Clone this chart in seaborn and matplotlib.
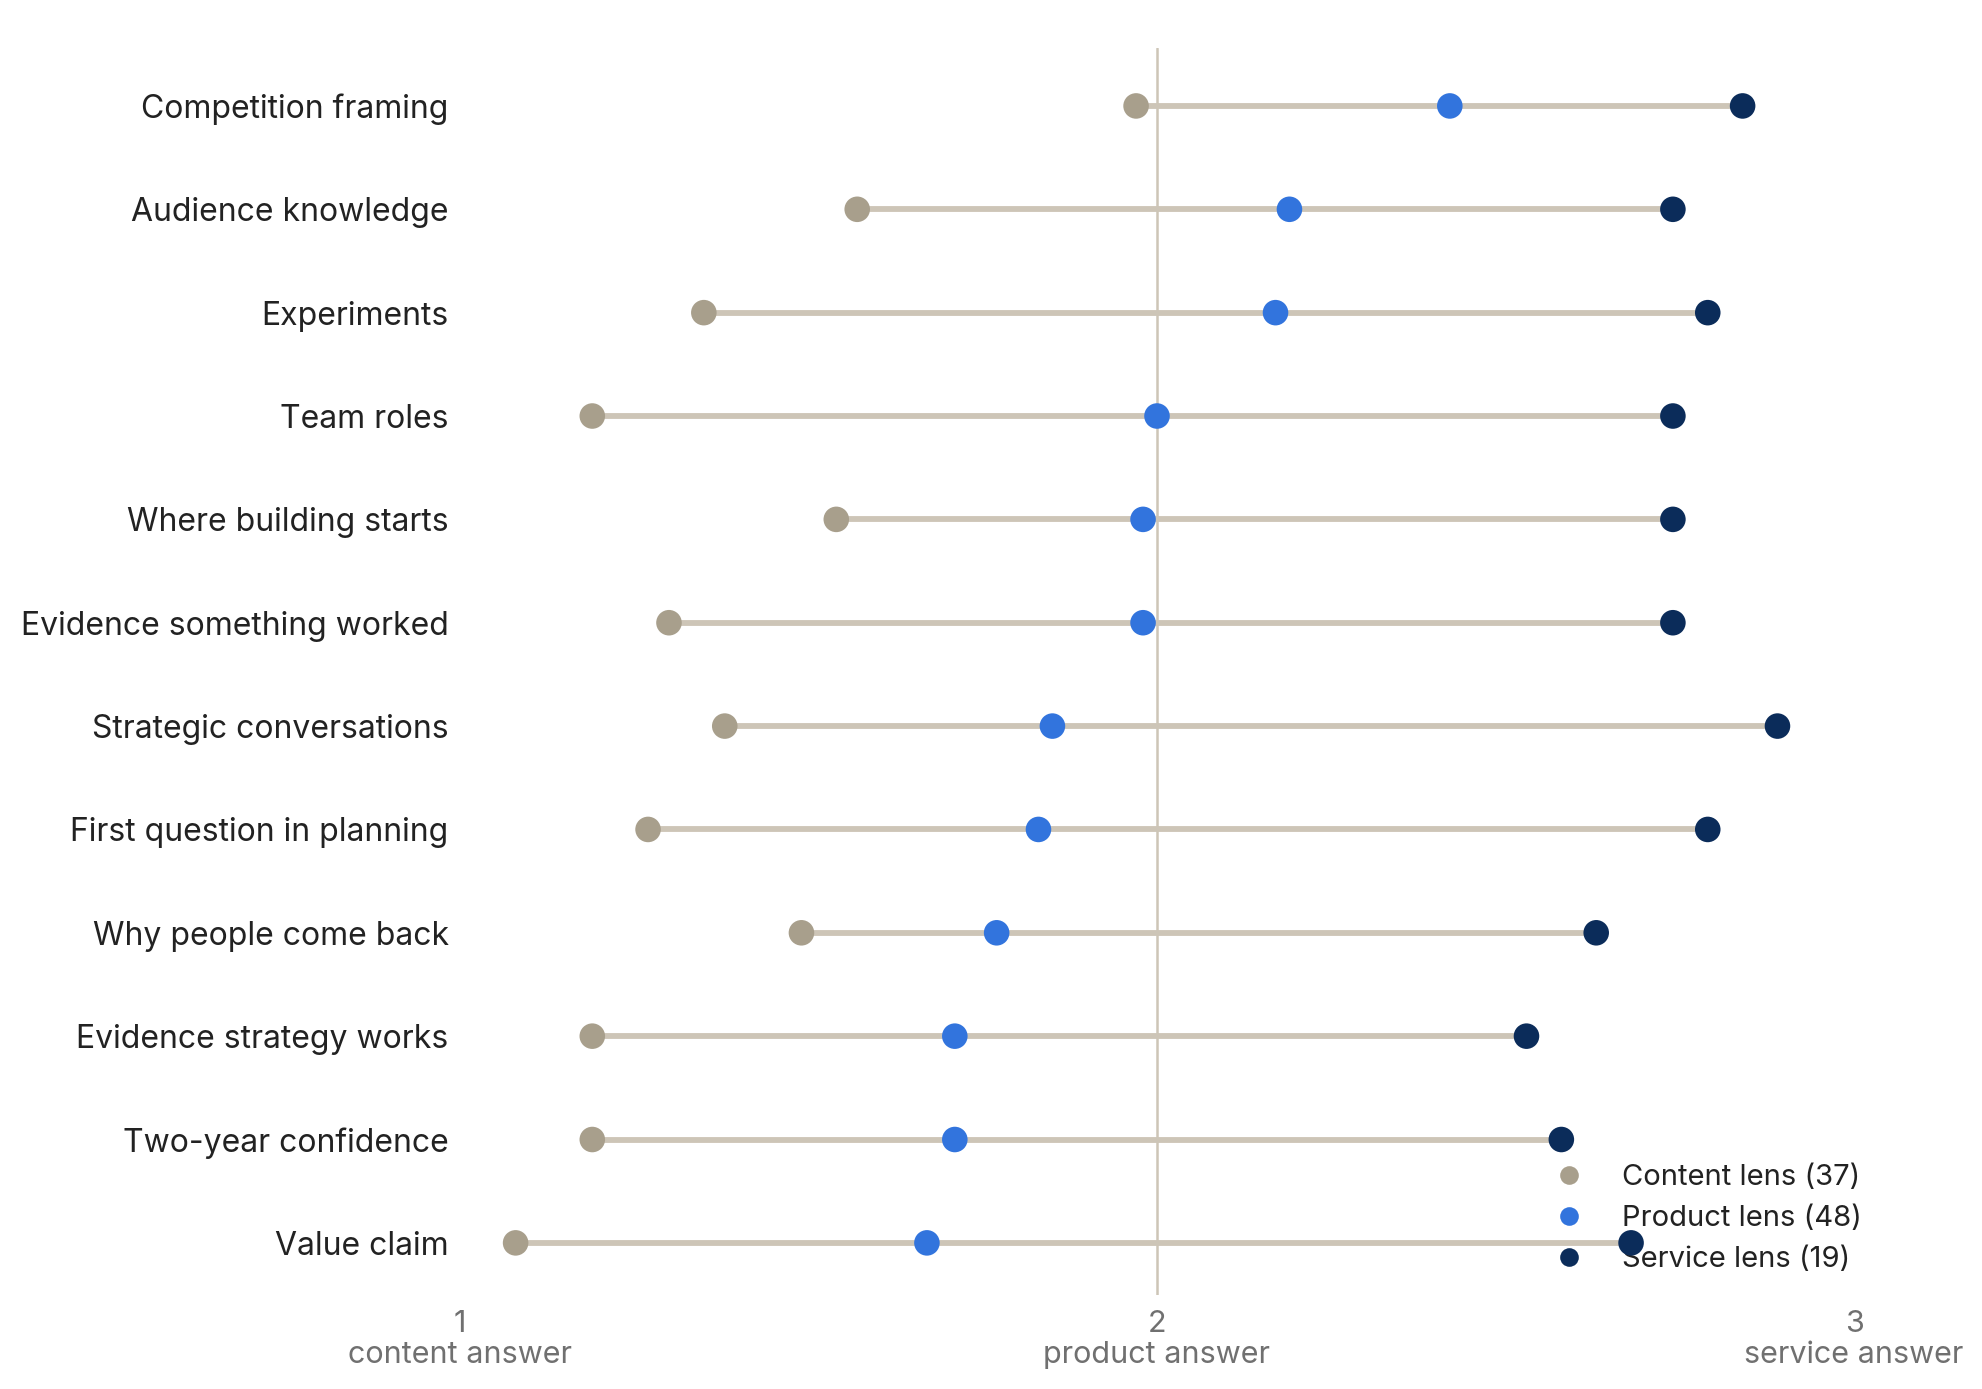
import numpy as np
import pandas as pd
import matplotlib
matplotlib.use("Agg")
import matplotlib.pyplot as plt
import seaborn as sns

# =========================
# data (mean answer per lens, 1 = content, 2 = product, 3 = service)
# =========================
items = ["Competition framing", "Audience knowledge", "Experiments", "Team roles",
         "Where building starts", "Evidence something worked", "Strategic conversations",
         "First question in planning", "Why people come back", "Evidence strategy works",
         "Two-year confidence", "Value claim"]

content_lens = [1.97, 1.57, 1.35, 1.19, 1.54, 1.30, 1.38, 1.27, 1.49, 1.19, 1.19, 1.08]
product_lens = [2.42, 2.19, 2.17, 2.00, 1.98, 1.98, 1.85, 1.83, 1.77, 1.71, 1.71, 1.67]
service_lens = [2.84, 2.74, 2.79, 2.74, 2.74, 2.74, 2.89, 2.79, 2.63, 2.53, 2.58, 2.68]

lens_names = ["Content lens (37)", "Product lens (48)", "Service lens (19)"]
tick_vals = [1, 2, 3]
tick_labels = ["1\ncontent answer", "2\nproduct answer", "3\nservice answer"]

colors = ["#A89F8C", "#3274DD", "#0B2C5A"]
line_color = "#CDC5B7"

df = pd.DataFrame({
    "item": items * 3,
    "score": content_lens + product_lens + service_lens,
    "lens": [n for n in lens_names for _ in items],
})

# =========================
# style
# =========================
sns.set_style("white")
plt.rcParams["font.family"] = ["Inter", "DejaVu Sans"]

fig = plt.figure(figsize=(9.91, 6.945), dpi=200)
ax = fig.add_axes([0.232, 0.068, 0.7035, 0.8974])

# connecting lines, min to max per row
lo = np.minimum.reduce([content_lens, product_lens, service_lens])
hi = np.maximum.reduce([content_lens, product_lens, service_lens])
ax.hlines(np.arange(len(items)), lo, hi, color=line_color, lw=2.1, zorder=1)
ax.axvline(2, color=line_color, lw=0.9, zorder=0.5)

sns.stripplot(data=df, x="score", y="item", hue="lens", order=items,
              hue_order=lens_names, palette=colors, jitter=False, size=9.2,
              linewidth=0, ax=ax, zorder=3)

ax.set_xlim(1, 3)
ax.set_ylim(len(items) - 0.5, -0.56)
ax.set_xticks(tick_vals)
ax.set_xticklabels(tick_labels, color="#707070", fontsize=11, linespacing=1.15)
ax.tick_params(axis="x", length=0, pad=5.5)
ax.tick_params(axis="y", length=0, pad=4, labelsize=11.5, labelcolor="#222222")
ax.set_xlabel("")
ax.set_ylabel("")
for s in ax.spines.values():
    s.set_visible(False)

leg = ax.legend(loc="lower right", bbox_to_anchor=(1.0136, 0.008), frameon=False,
                fontsize=10.5, markerscale=0.73, handletextpad=0.8,
                labelspacing=0.48, borderaxespad=0)
for t in leg.get_texts():
    t.set_color("#222222")
leg.set_zorder(2)

plt.savefig("out.png", dpi=200)
plt.close()
